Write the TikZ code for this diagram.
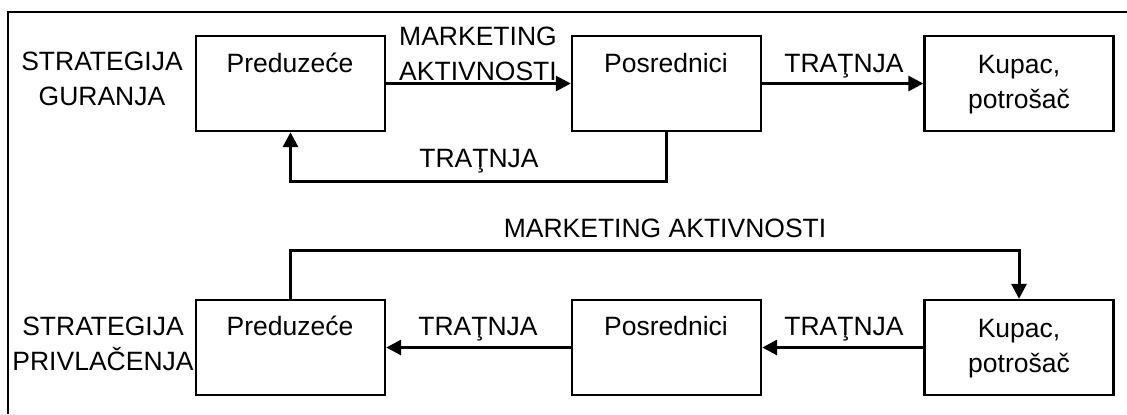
\documentclass[tikz,border=0pt]{standalone}
\usepackage{fontspec}
\setmainfont{Liberation Sans}
\usetikzlibrary{arrows.meta}
\begin{document}
\begin{tikzpicture}[x=0.5pt,y=-0.5pt,
  every node/.style={font=\fontsize{13.25}{17.5}\selectfont, inner sep=0pt},
  box/.style={draw, line width=1.2pt, minimum width=94.5pt, minimum height=47.5pt},
  txt/.style={anchor=base, align=center},
  flow/.style={line width=1.5pt, -{Triangle[length=7.5pt,width=7.5pt]}},
  frameline/.style={line width=1.2pt}]
\useasboundingbox (0,0) rectangle (1127,414);
% open frame: only the top and left edges
\draw[frameline] (8,414) -- (8,12) -- (1130,12);

% push strategy (top row); multi-line texts sit on their last baseline
\node[box] (pre1) at (290.5,83.5) {};
\node[box] (pos1) at (666.5,83.5) {};
\node[box] (kup1) at (1019,83.5) {};
\node[txt] (tpre1) at (290,72) {Preduzeće};
\node[txt] (tpos1) at (666,72) {Posrednici};
\node[txt] (tkup1) at (1019,108) {Kupac,\\potrošač};
\node[txt] (push) at (102,105) {STRATEGIJA\\GURANJA};
\node[txt] (mk1) at (478,80) {MARKETING\\AKTIVNOSTI};
\node[txt] (tr1) at (844,72) {TRAŢNJA};
\node[txt] (tr2) at (479,167) {TRAŢNJA};
\draw[flow] (pre1.east) -- (pos1.west);
\draw[flow] (pos1.east) -- (kup1.west);
\draw[flow] (pos1.south) -- ++(0,49) -| (pre1.south);

% pull strategy (bottom row)
\node[box] (pre2) at (290.5,347.5) {};
\node[box] (pos2) at (666.5,347.5) {};
\node[box] (kup2) at (1019,347.5) {};
\node[txt] (tpre2) at (290,335) {Preduzeće};
\node[txt] (tpos2) at (666,335) {Posrednici};
\node[txt] (tkup2) at (1019,372) {Kupac,\\potrošač};
\node[txt] (pull) at (103,370) {STRATEGIJA\\PRIVLAČENJA};
\node[txt] (mk2) at (665,237) {MARKETING AKTIVNOSTI};
\node[txt] (tr3) at (478,335) {TRAŢNJA};
\node[txt] (tr4) at (844,335) {TRAŢNJA};
\draw[flow] (pos2.west) -- (pre2.east);
\draw[flow] (kup2.west) -- (pos2.east);
\draw[flow] (pre2.north) -- ++(0,-48) -| (kup2.north);
\end{tikzpicture}
\end{document}
